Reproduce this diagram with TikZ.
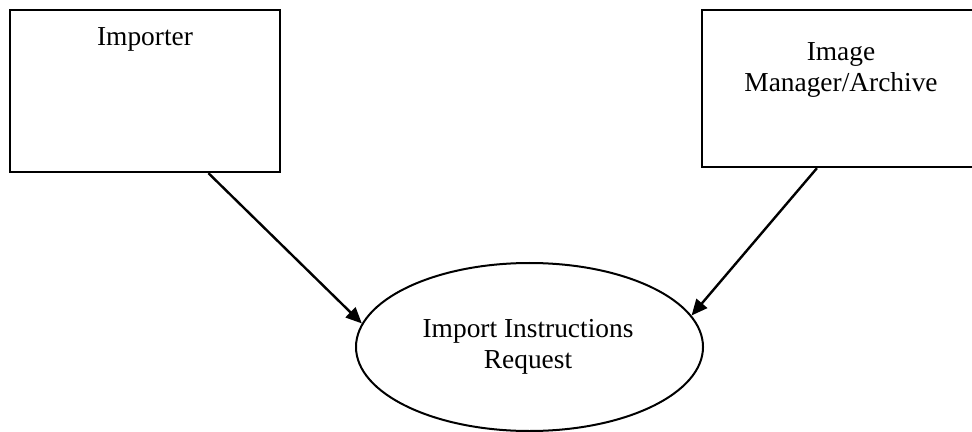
\documentclass[tikz,border=0pt]{standalone}
\usepackage{fontspec}
\setmainfont{Liberation Serif}
\usetikzlibrary{arrows.meta,shapes.geometric,calc}
\begin{document}
\begin{tikzpicture}[x=0.5pt,y=-0.5pt,
  box/.style={draw,line width=1.2pt,rectangle,inner sep=0pt},
  oval/.style={draw,line width=1pt,ellipse,inner sep=0pt},
  lbl/.style={font=\fontsize{13.7}{15.5}\selectfont,align=center,anchor=base,inner sep=0pt},
  arr/.style={line width=1.2pt,-{Triangle[length=8pt,width=7pt]}}]
\useasboundingbox (0,0) rectangle (972,432);
\fill[white] (0,0) rectangle (972,432);
\node[box,minimum width=135pt,minimum height=81pt] (imp) at (145,91) {};
\node[box,minimum width=139pt,minimum height=78.5pt] (ima) at (841,88.5) {};
\node[oval,minimum width=173.5pt,minimum height=84pt] (req) at (529.5,347) {};
\node[lbl] (timp) at (145,46) {Importer};
\node[lbl] (tima) at (841,92) {Image\\Manager/Archive};
\node[lbl] (treq) at (528,368) {Import Instructions\\Request};
\draw[arr] ($(imp.south west)!0.733!(imp.south east)$) -- (req.172.5);
\draw[arr] ($(ima.south west)!0.414!(ima.south east)$) -- (req.11.5);
\end{tikzpicture}
\end{document}
